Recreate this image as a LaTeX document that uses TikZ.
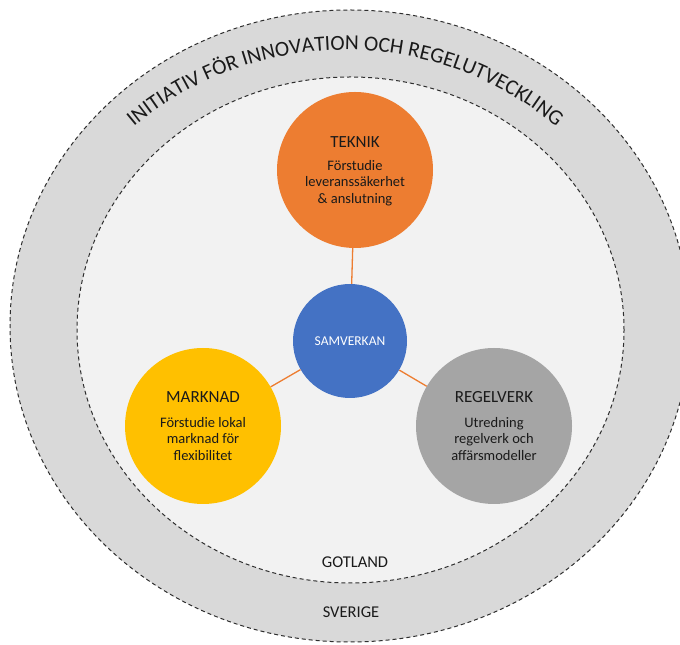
\documentclass[tikz,border=0pt]{standalone}
\usepackage{fontspec}
\setmainfont{Carlito}
\usetikzlibrary{decorations.text}
\definecolor{ringfill}{HTML}{D9D9D9}
\definecolor{innerfill}{HTML}{F2F2F2}
\definecolor{dashcol}{HTML}{2E2E2E}
\definecolor{orangeC}{HTML}{ED7D31}
\definecolor{blueC}{HTML}{4472C4}
\definecolor{yellowC}{HTML}{FFC000}
\definecolor{grayC}{HTML}{A5A5A5}
\definecolor{txt}{HTML}{1A1A1A}
\tikzset{
  ringline/.style={draw=dashcol, line width=1pt, dash pattern=on 4pt off 3pt},
  bigcirc/.style={circle, minimum size=156pt, inner sep=0pt},
  midcirc/.style={circle, minimum size=114pt, inner sep=0pt, fill=blueC},
  link/.style={draw=orangeC, line width=1.3pt},
  titletext/.style={text=txt, font=\fontsize{17}{20}\selectfont, inner sep=0pt},
  bodytext/.style={text=txt, font=\fontsize{14.5}{16.5}\selectfont, align=center, inner sep=0pt},
  areatext/.style={text=txt, font=\fontsize{16.5}{19}\selectfont, inner sep=0pt},
}
\begin{document}
\begin{tikzpicture}[x=1pt,y=1pt]
\useasboundingbox (0,0) rectangle (680,645);
\clip (0,0) rectangle (680,645);
\fill[white] (0,0) rectangle (680,645);
% rings
\draw[ringline, fill=ringfill] (350,319) ellipse [x radius=340, y radius=316];
\draw[ringline, fill=innerfill] (350.5,315) ellipse [x radius=273.5, y radius=253];
% arc text
\path[decorate, decoration={text along path, text align=center,
  text={|\fontsize{21.5}{24}\selectfont\color{txt}|INITIATIV FÖR INNOVATION OCH REGELUTVECKLING}}]
  (345,266) ++(132:329) arc[start angle=132, end angle=48, radius=329];
% circles
\node[bigcirc, fill=orangeC] (teknik) at (355,475) {};
\node[midcirc] (samv) at (350,304) {};
\node[bigcirc, fill=yellowC] (marknad) at (203,219) {};
\node[bigcirc, fill=grayC] (regel) at (494,219) {};
% connectors
\draw[link] (teknik) -- (samv);
\draw[link] (samv) -- (marknad);
\draw[link] (samv) -- (regel);
% texts
\node[text=white, font=\fontsize{13.5}{16}\selectfont, inner sep=0pt] (samvt) at (350,304) {SAMVERKAN};
\node[titletext] (teknikt) at (355,503) {TEKNIK};
\node[bodytext] (teknikb) at (355,462) {Förstudie\\leveranssäkerhet\\\& anslutning};
\node[titletext] (marknadt) at (203,248) {MARKNAD};
\node[bodytext] (marknadb) at (203,206) {Förstudie lokal\\marknad för\\flexibilitet};
\node[titletext] (regelt) at (494,248) {REGELVERK};
\node[bodytext] (regelb) at (494,206) {Utredning\\regelverk och\\affärsmodeller};
\node[areatext] (gotland) at (355,83) {GOTLAND};
\node[areatext] (sverige) at (351,33) {SVERIGE};
\end{tikzpicture}
\end{document}
